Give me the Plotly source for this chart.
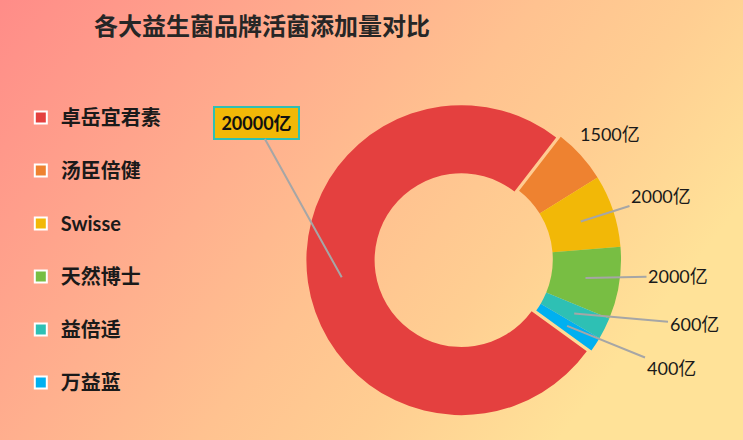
import base64
import math

import plotly.graph_objects as go

# Data
brands = ["卓岳宜君素", "汤臣倍健", "Swisse", "天然博士", "益倍适", "万益蓝"]
amounts = [20000, 1500, 2000, 2000, 600, 400]  # 亿 CFU
unit = "亿"
title = "各大益生菌品牌活菌添加量对比"

# Styling
colors = ["#E4403F", "#EE8230", "#F2B807", "#78BE43", "#2EC0B4", "#00B0F0"]
pulls = [0.03, 0, 0, 0, 0, 0]
W, H = 743, 440
cx, cy, R = 466, 259.5, 155  # donut centre / outer radius in px
hole = 0.56
start_angle = 126  # first slice starts here, clockwise from 12 o'clock
# where each value label sits (px), and whether it gets a leader line
label_pos = [(256, 123), (610, 134), (661, 196), (678, 276), (694, 324), (671, 368)]
leader = [True, False, True, True, True, True]
line_grey = "#A6A6A6"
label_font = "Lato, Noto Sans CJK SC"

# pie domain so plotly puts the donut where the original has it
side = 2 * R * (1 + max(pulls))
domain_x = [(cx - side / 2) / W, (cx + side / 2) / W]
domain_y = [1 - (cy + side / 2) / H, 1 - (cy - side / 2) / H]

# background gradient as an svg image
bg_svg = (
    f'<svg xmlns="http://www.w3.org/2000/svg" width="{W}" height="{H}" preserveAspectRatio="none">'
    '<defs><linearGradient id="g" x1="0" y1="0" x2="1" y2="0.46">'
    '<stop offset="0" stop-color="#FF8C88"/>'
    '<stop offset="0.4" stop-color="#FFB08E"/>'
    '<stop offset="0.6" stop-color="#FFC290"/>'
    '<stop offset="0.78" stop-color="#FFCE92"/>'
    '<stop offset="1" stop-color="#FFE298"/>'
    '</linearGradient></defs>'
    '<rect width="100%" height="100%" fill="url(#g)"/></svg>'
)
bg_src = "data:image/svg+xml;base64," + base64.b64encode(bg_svg.encode()).decode()

fig = go.Figure()

fig.add_trace(
    go.Pie(
        labels=brands,
        values=amounts,
        hole=hole,
        sort=False,
        direction="clockwise",
        rotation=start_angle,
        pull=pulls,
        marker=dict(colors=colors, line=dict(width=0)),
        textinfo="none",
        domain=dict(x=domain_x, y=domain_y),
        showlegend=False,
        hovertemplate="%{label}: %{value}" + unit + "<extra></extra>",
    )
)

# legend entries (one group each so the rows can be spaced out)
for name, c in zip(brands, colors):
    fig.add_trace(
        go.Scatter(
            x=[None],
            y=[None],
            mode="markers",
            name=name,
            legendgroup=name,
            marker=dict(symbol="square", size=12, color=c, line=dict(color="white", width=2)),
            hoverinfo="skip",
        )
    )

# value labels with leader lines pointing at the middle of each ring slice
total = sum(amounts)
cum = 0
annotations = []
for i, v in enumerate(amounts):
    mid = math.radians(start_angle + (cum + v / 2) / total * 360)
    cum += v
    rm = R * (1 + hole) / 2
    px = cx + (rm + pulls[i] * R) * math.sin(mid)
    py = cy - (rm + pulls[i] * R) * math.cos(mid)
    lx, ly = label_pos[i]
    ann = dict(
        text=f"{v}{unit}",
        font=dict(family=label_font, size=18, color="#1A1A1A"),
        xanchor="center",
        yanchor="middle",
        xref="paper",
        yref="paper",
    )
    if i == 0:
        ann.update(
            font=dict(family=label_font, size=18, color="#111111", weight="bold"),
            bgcolor="#F2B807",
            bordercolor="#2EC0B4",
            borderwidth=2,
            borderpad=3,
            width=77,
            height=24,
        )
    if leader[i]:
        ann.update(
            x=px / W, y=1 - py / H,
            showarrow=True, arrowhead=0, arrowwidth=2, arrowcolor=line_grey,
            ax=lx - px, ay=ly - py,
        )
    else:
        ann.update(x=lx / W, y=1 - ly / H, showarrow=False)
    annotations.append(ann)

fig.update_layout(
    width=W,
    height=H,
    margin=dict(l=0, r=0, t=0, b=0),
    paper_bgcolor="#FFC290",
    plot_bgcolor="rgba(0,0,0,0)",
    title=dict(
        text=title,
        x=262 / W,
        xanchor="center",
        y=1 - 27 / H,
        yanchor="middle",
        font=dict(family="Noto Sans CJK SC", size=24, color="#262626", weight="bold"),
    ),
    xaxis=dict(visible=False),
    yaxis=dict(visible=False),
    legend=dict(
        x=0.028,
        y=1 - 98 / H,
        xanchor="left",
        yanchor="top",
        bgcolor="rgba(0,0,0,0)",
        tracegroupgap=24,
        itemsizing="constant",
        font=dict(family=label_font, size=20, color="#1A1A1A", weight="bold"),
    ),
    annotations=annotations,
    images=[
        dict(
            source=bg_src, xref="paper", yref="paper", x=0, y=1,
            sizex=1, sizey=1, sizing="stretch", layer="below",
        )
    ],
)

# drop the page's default body margin so the figure fills the window
fig.write_html(
    "out.html",
    config={"displayModeBar": False},
    post_script="document.body.style.margin='0px';",
)
